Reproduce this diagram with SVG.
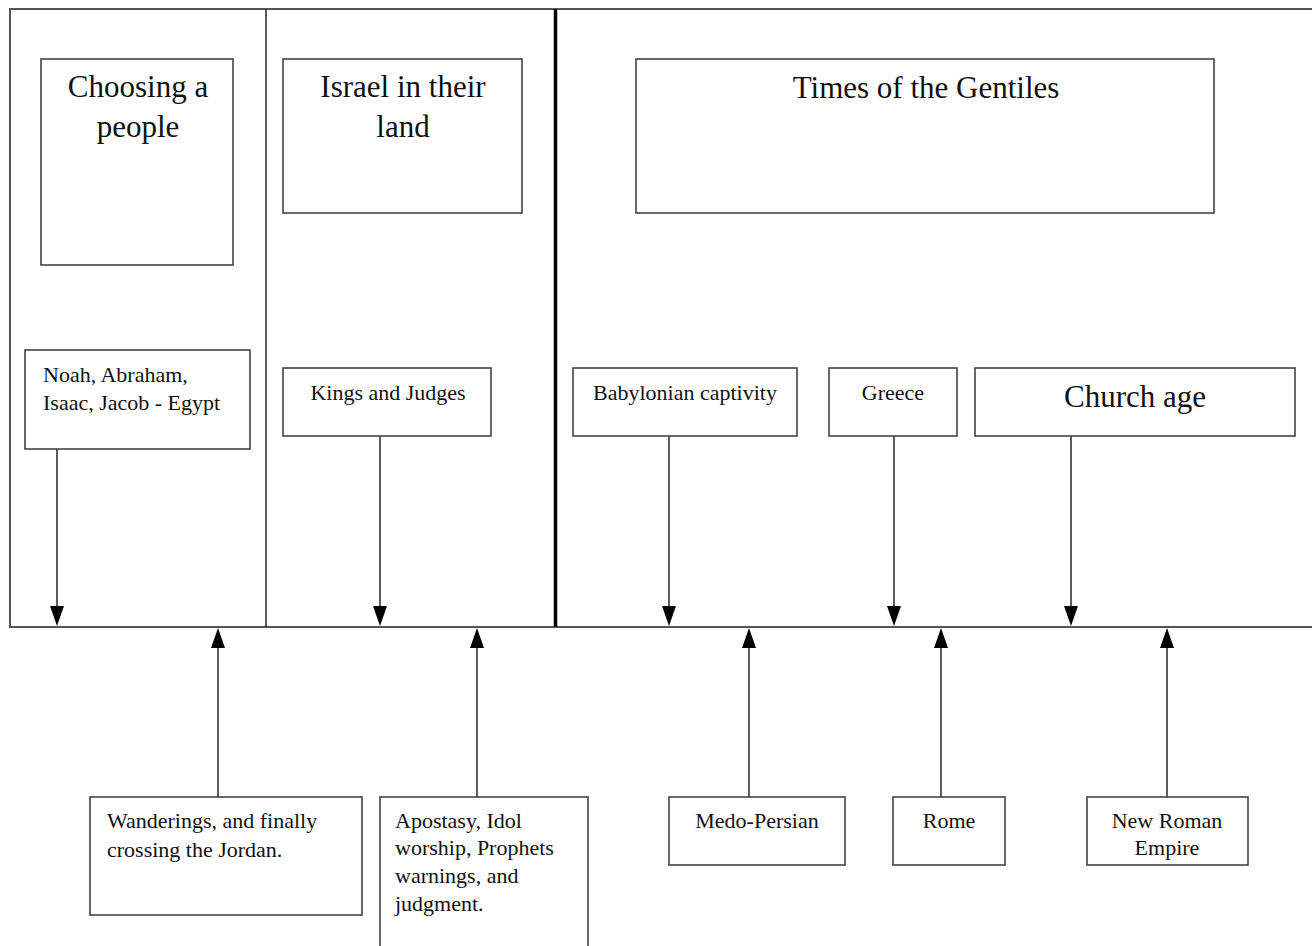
<svg xmlns="http://www.w3.org/2000/svg" width="1312" height="946" viewBox="0 0 1312 946">
<style>
.box{fill:#fff;stroke:#444;stroke-width:1.6}
.frame{fill:none;stroke:#555;stroke-width:2}
.t{font-family:"Liberation Serif","Times New Roman",serif;fill:#111}
.big{font-size:31px}
.sm{font-size:22px}
.c{text-anchor:middle}
.ln{stroke:#333;stroke-width:1.6;fill:none}
.ah{fill:#000}
</style>
<rect width="1312" height="946" fill="#fff"/>
<g id="frame">
<path class="frame" d="M1312,9 L10,9 L10,627 L1312,627"/>
<line x1="266" y1="9" x2="266" y2="627" stroke="#222" stroke-width="1.5"/>
<line x1="555.5" y1="9" x2="555.5" y2="627" stroke="#000" stroke-width="3.5"/>
</g>
<g id="connectors">
<line class="ln" x1="57" y1="449" x2="57" y2="610"/>
<path class="ah" d="M50,606 L64,606 L57,626 Z"/>
<line class="ln" x1="380" y1="436" x2="380" y2="610"/>
<path class="ah" d="M373,606 L387,606 L380,626 Z"/>
<line class="ln" x1="669" y1="436" x2="669" y2="610"/>
<path class="ah" d="M662,606 L676,606 L669,626 Z"/>
<line class="ln" x1="894" y1="436" x2="894" y2="610"/>
<path class="ah" d="M887,606 L901,606 L894,626 Z"/>
<line class="ln" x1="1071" y1="436" x2="1071" y2="610"/>
<path class="ah" d="M1064,606 L1078,606 L1071,626 Z"/>
<line class="ln" x1="218" y1="797" x2="218" y2="644"/>
<path class="ah" d="M211,648 L225,648 L218,628 Z"/>
<line class="ln" x1="477" y1="797" x2="477" y2="644"/>
<path class="ah" d="M470,648 L484,648 L477,628 Z"/>
<line class="ln" x1="749" y1="797" x2="749" y2="644"/>
<path class="ah" d="M742,648 L756,648 L749,628 Z"/>
<line class="ln" x1="941" y1="797" x2="941" y2="644"/>
<path class="ah" d="M934,648 L948,648 L941,628 Z"/>
<line class="ln" x1="1167" y1="797" x2="1167" y2="644"/>
<path class="ah" d="M1160,648 L1174,648 L1167,628 Z"/>
</g>
<g id="choosing">
<rect class="box" x="41" y="59" width="192" height="206"/>
<text class="t big c" x="138" y="97">Choosing a</text>
<text class="t big c" x="138" y="137">people</text>
</g>
<g id="israel">
<rect class="box" x="283" y="59" width="239" height="154"/>
<text class="t big c" x="403" y="97">Israel in their</text>
<text class="t big c" x="403" y="137">land</text>
</g>
<g id="gentiles">
<rect class="box" x="636" y="59" width="578" height="154"/>
<text class="t big c" x="926" y="98">Times of the Gentiles</text>
</g>
<g id="noah">
<rect class="box" x="25" y="350" width="225" height="99"/>
<text class="t sm" x="43" y="382">Noah,  Abraham,</text>
<text class="t sm" x="43" y="410">Isaac, Jacob - Egypt</text>
</g>
<g id="kings">
<rect class="box" x="283" y="368" width="208" height="68"/>
<text class="t sm c" x="388" y="400">Kings and Judges</text>
</g>
<g id="babylon">
<rect class="box" x="573" y="368" width="224" height="68"/>
<text class="t sm c" x="685" y="400">Babylonian captivity</text>
</g>
<g id="greece">
<rect class="box" x="829" y="368" width="128" height="68"/>
<text class="t sm c" x="893" y="400">Greece</text>
</g>
<g id="church">
<rect class="box" x="975" y="368" width="320" height="68"/>
<text class="t big c" x="1135" y="407">Church age</text>
</g>
<g id="wanderings">
<rect class="box" x="90" y="797" width="272" height="118"/>
<text class="t sm" x="107" y="828">Wanderings,  and finally</text>
<text class="t sm" x="107" y="857">crossing the Jordan.</text>
</g>
<g id="apostasy">
<rect class="box" x="380" y="797" width="208" height="160"/>
<text class="t sm" x="395" y="828">Apostasy, Idol</text>
<text class="t sm" x="395" y="855">worship, Prophets</text>
<text class="t sm" x="395" y="883">warnings, and</text>
<text class="t sm" x="395" y="911">judgment.</text>
</g>
<g id="medo">
<rect class="box" x="669" y="797" width="176" height="68"/>
<text class="t sm c" x="757" y="828">Medo-Persian</text>
</g>
<g id="rome">
<rect class="box" x="893" y="797" width="112" height="68"/>
<text class="t sm c" x="949" y="828">Rome</text>
</g>
<g id="newrome">
<rect class="box" x="1087" y="797" width="161" height="68"/>
<text class="t sm c" x="1167" y="828">New Roman</text>
<text class="t sm c" x="1167" y="855">Empire</text>
</g>
</svg>
